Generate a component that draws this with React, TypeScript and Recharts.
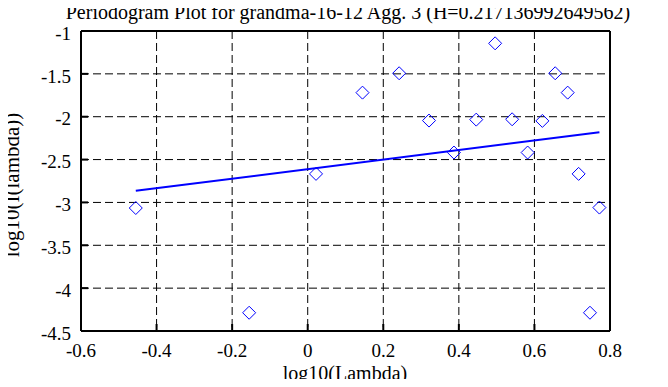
import React from 'react';
import { ScatterChart, Scatter, XAxis, YAxis, CartesianGrid } from 'recharts';

// periodogram points (log10 lambda, log10 I(lambda))
const periodogramPoints = [
  { x: -0.455, y: -3.065 },
  { x: -0.155, y: -4.287 },
  { x: 0.022, y: -2.667 },
  { x: 0.145, y: -1.719 },
  { x: 0.242, y: -1.493 },
  { x: 0.321, y: -2.045 },
  { x: 0.387, y: -2.418 },
  { x: 0.446, y: -2.034 },
  { x: 0.496, y: -1.144 },
  { x: 0.541, y: -2.03 },
  { x: 0.582, y: -2.418 },
  { x: 0.621, y: -2.049 },
  { x: 0.655, y: -1.493 },
  { x: 0.688, y: -1.719 },
  { x: 0.717, y: -2.667 },
  { x: 0.747, y: -4.287 },
  { x: 0.772, y: -3.06 },
];

// fitted regression line, endpoints
const fitLine = [
  { x: -0.455, y: -2.865 },
  { x: 0.772, y: -2.181 },
];

const xTicks = [-0.6, -0.4, -0.2, 0, 0.2, 0.4, 0.6, 0.8];
const yTicks = [-4.5, -4, -3.5, -3, -2.5, -2, -1.5, -1];

const titleText = 'Periodogram Plot for grandma-16-12 Agg. 3 (H=0.217136992649562)';
const xLabel = 'log10(Lambda)';
const yLabel = 'log10(I(lambda))';

const FONT = 'Liberation Serif, Times New Roman, serif';
const BLUE = '#0000ff';
const TICK_LEN = 7;

const Diamond = (props: any) => {
  const { cx, cy } = props;
  const r = 6.5;
  return (
    <path
      d={`M${cx},${cy - r}L${cx + r},${cy}L${cx},${cy + r}L${cx - r},${cy}Z`}
      fill="none"
      stroke={BLUE}
      strokeWidth={1}
    />
  );
};

const NoShape = () => <g />;

const LeftTick = ({ x, y, payload }: any) => (
  <g>
    <line x1={x} x2={x + TICK_LEN} y1={y} y2={y} stroke="#000" strokeWidth={2} />
    <text x={x - 10} y={y} dy="0.46em" textAnchor="end" fontFamily={FONT} fontSize={19} fill="#000">
      {String(payload.value)}
    </text>
  </g>
);

const RightTick = ({ x, y }: any) => (
  <line x1={x} x2={x - TICK_LEN} y1={y} y2={y} stroke="#000" strokeWidth={2} />
);

const BottomTick = ({ x, y, payload }: any) => (
  <g>
    <line x1={x} x2={x} y1={y} y2={y - TICK_LEN} stroke="#000" strokeWidth={2} />
    <text x={x} y={y + 26} textAnchor="middle" fontFamily={FONT} fontSize={19} fill="#000">
      {String(payload.value)}
    </text>
  </g>
);

const TopTick = ({ x, y }: any) => (
  <line x1={x} x2={x} y1={y} y2={y + TICK_LEN} stroke="#000" strokeWidth={2} />
);

export default function App() {
  const width = 668;
  const height = 387;
  return (
    <div style={{ position: 'relative', width, height, margin: -8 }}>
      <ScatterChart
        width={width}
        height={height}
        margin={{ top: 30, right: 57, bottom: 0, left: 0 }}
      >
        <CartesianGrid
          xAxisId="bottom"
          yAxisId="left"
          stroke="#000"
          strokeDasharray="8 4"
          strokeWidth={1}
        />
        <XAxis
          xAxisId="bottom"
          dataKey="x"
          type="number"
          domain={[-0.6, 0.8]}
          ticks={xTicks}
          height={56}
          tickSize={0}
          tickMargin={0}
          tickLine={false}
          axisLine={{ stroke: '#000', strokeWidth: 2 }}
          tick={<BottomTick />}
          interval={0}
        />
        <XAxis
          xAxisId="top"
          orientation="top"
          dataKey="x"
          type="number"
          domain={[-0.6, 0.8]}
          ticks={xTicks}
          height={1}
          tickSize={0}
          tickMargin={0}
          tickLine={false}
          axisLine={{ stroke: '#000', strokeWidth: 2 }}
          tick={<TopTick />}
          interval={0}
        />
        <YAxis
          yAxisId="left"
          dataKey="y"
          type="number"
          domain={[-4.5, -1]}
          ticks={yTicks}
          width={81}
          tickSize={0}
          tickMargin={0}
          tickLine={false}
          axisLine={{ stroke: '#000', strokeWidth: 2 }}
          tick={<LeftTick />}
          interval={0}
        />
        <YAxis
          yAxisId="right"
          orientation="right"
          dataKey="y"
          type="number"
          domain={[-4.5, -1]}
          ticks={yTicks}
          width={1}
          tickSize={0}
          tickMargin={0}
          tickLine={false}
          axisLine={{ stroke: '#000', strokeWidth: 2 }}
          tick={<RightTick />}
          interval={0}
        />
        <Scatter
          xAxisId="bottom"
          yAxisId="left"
          data={fitLine}
          line={{ stroke: BLUE, strokeWidth: 2 }}
          shape={<NoShape />}
          isAnimationActive={false}
        />
        <Scatter
          xAxisId="bottom"
          yAxisId="left"
          data={periodogramPoints}
          shape={<Diamond />}
          isAnimationActive={false}
        />
      </ScatterChart>
      <svg
        width={width}
        height={height}
        style={{ position: 'absolute', left: 0, top: 0, pointerEvents: 'none' }}
      >
        <text x={348} y={19} textAnchor="middle" fontFamily={FONT} fontSize={20} fill="#000">
          {titleText}
        </text>
        <text x={345} y={380} textAnchor="middle" fontFamily={FONT} fontSize={20} fill="#000">
          {xLabel}
        </text>
        <text
          x={0}
          y={0}
          transform="translate(19,185) rotate(-90)"
          textAnchor="middle"
          fontFamily={FONT}
          fontSize={21}
          fill="#000"
        >
          {yLabel}
        </text>
      </svg>
    </div>
  );
}
